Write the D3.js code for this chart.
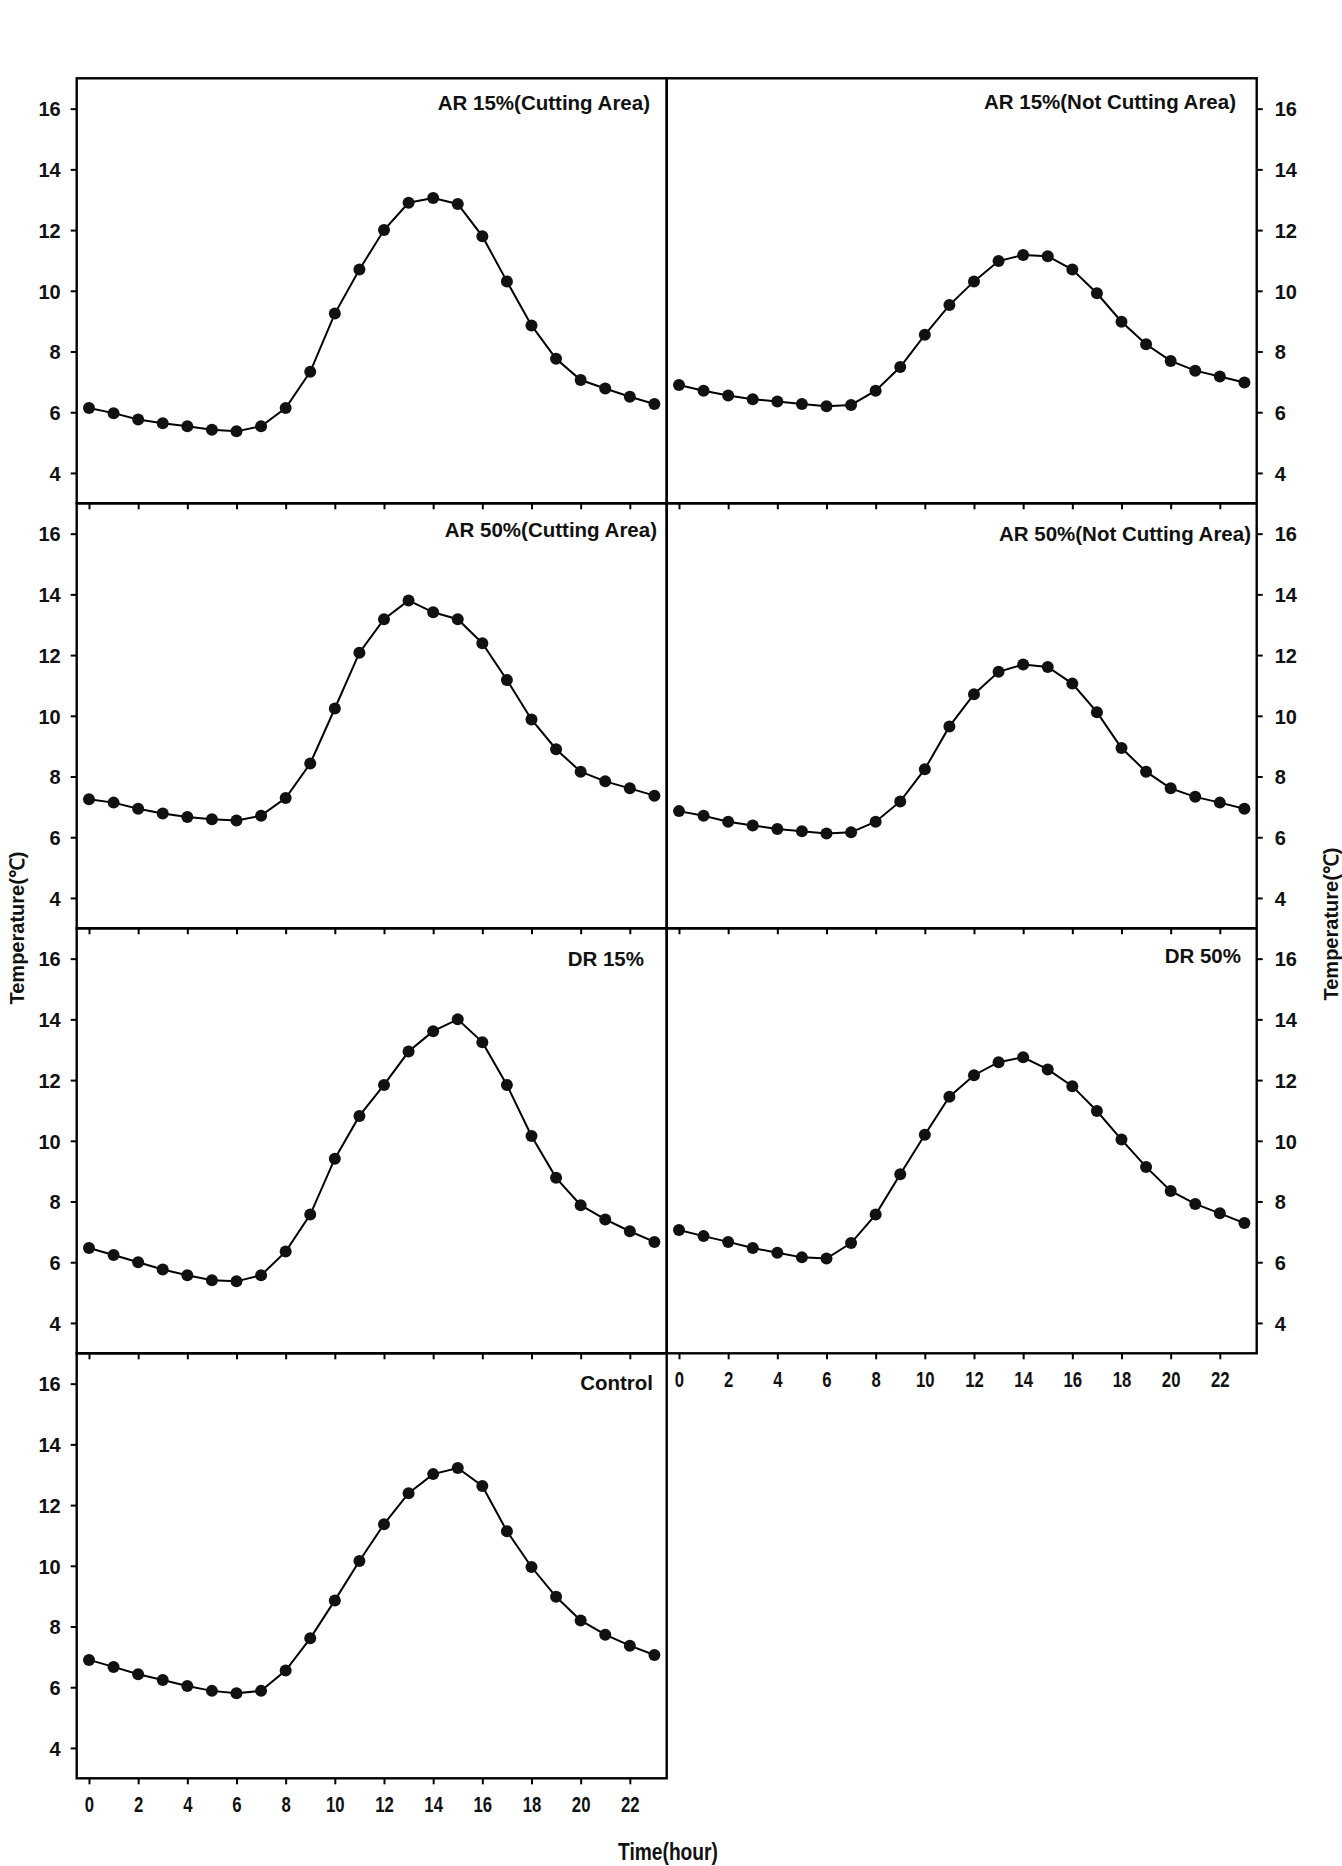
<!DOCTYPE html>
<html>
<head>
<meta charset="utf-8">
<script src="https://cdn.jsdelivr.net/npm/d3@7"></script>
<style>
  html, body { margin: 0; padding: 0; background: #fff; }
  svg { display: block; }
  .lbl { font-family: "Liberation Sans", Arial, sans-serif; font-weight: bold; fill: #111; }
  .narrow { font-family: "Liberation Sans", Arial, sans-serif; font-weight: bold; fill: #111; }
</style>
</head>
<body>
<svg id="chart" width="1342" height="1866"></svg>
<script>
// ---- data ----
const hours = d3.range(0, 24);
const ar15Cut = [6.14, 5.97, 5.76, 5.64, 5.54, 5.42, 5.37, 5.54, 6.14, 7.33, 9.25, 10.7, 12.0, 12.9, 13.06, 12.86, 11.8, 10.31, 8.86, 7.76, 7.06, 6.78, 6.51, 6.27];
const ar15Not = [6.90, 6.71, 6.55, 6.43, 6.35, 6.27, 6.20, 6.24, 6.71, 7.49, 8.55, 9.53, 10.31, 10.98, 11.18, 11.14, 10.7, 9.92, 8.98, 8.24, 7.69, 7.37, 7.18, 6.98];
const ar50Cut = [7.25, 7.14, 6.94, 6.78, 6.67, 6.59, 6.55, 6.71, 7.29, 8.43, 10.24, 12.08, 13.18, 13.8, 13.41, 13.18, 12.39, 11.18, 9.88, 8.90, 8.16, 7.84, 7.61, 7.37];
const ar50Not = [6.86, 6.71, 6.51, 6.39, 6.27, 6.20, 6.12, 6.16, 6.51, 7.18, 8.24, 9.65, 10.71, 11.45, 11.69, 11.61, 11.06, 10.12, 8.94, 8.16, 7.61, 7.33, 7.14, 6.94];
const dr15 = [6.47, 6.24, 6.0, 5.76, 5.57, 5.41, 5.37, 5.57, 6.35, 7.57, 9.41, 10.82, 11.84, 12.94, 13.61, 14.0, 13.25, 11.84, 10.16, 8.78, 7.88, 7.41, 7.02, 6.67];
const dr50 = [7.06, 6.86, 6.67, 6.47, 6.31, 6.16, 6.12, 6.63, 7.57, 8.90, 10.2, 11.45, 12.16, 12.59, 12.75, 12.35, 11.8, 10.98, 10.04, 9.14, 8.35, 7.92, 7.61, 7.29];
const control = [6.90, 6.67, 6.43, 6.24, 6.04, 5.88, 5.80, 5.88, 6.55, 7.61, 8.86, 10.16, 11.37, 12.39, 13.02, 13.22, 12.63, 11.14, 9.96, 8.98, 8.20, 7.73, 7.37, 7.06];
const panelTitles = ["AR 15%(Cutting Area)", "AR 15%(Not Cutting Area)", "AR 50%(Cutting Area)", "AR 50%(Not Cutting Area)", "DR 15%", "DR 50%", "Control"];
const yTicks = [4, 6, 8, 10, 12, 14, 16];
const xTicks = [0, 2, 4, 6, 8, 10, 12, 14, 16, 18, 20, 22];
const yTitle = "Temperature(℃)";
const xTitle = "Time(hour)";

// ---- layout ----
const colX = [76.7, 666.7];
const panelW = 590;
const rowY = [78.3, 503.3, 928.3, 1353.3];
const panelH = 425;

const panels = [
  { values: ar15Cut, title: panelTitles[0], col: 0, row: 0, tx: 650, ty: 110 },
  { values: ar15Not, title: panelTitles[1], col: 1, row: 0, tx: 1236, ty: 109 },
  { values: ar50Cut, title: panelTitles[2], col: 0, row: 1, tx: 657, ty: 537 },
  { values: ar50Not, title: panelTitles[3], col: 1, row: 1, tx: 1251, ty: 541 },
  { values: dr15, title: panelTitles[4], col: 0, row: 2, tx: 644, ty: 966 },
  { values: dr50, title: panelTitles[5], col: 1, row: 2, tx: 1241, ty: 963 },
  { values: control, title: panelTitles[6], col: 0, row: 3, tx: 653, ty: 1390 }
];

const svg = d3.select("#chart");

panels.forEach(p => {
  const x0 = colX[p.col], y0 = rowY[p.row];
  const x = d3.scaleLinear().domain([-0.5, 23.5]).range([x0, x0 + panelW]);
  const y = d3.scaleLinear().domain([3, 17]).range([y0 + panelH, y0]);
  const g = svg.append("g");

  // y axis
  if (p.col === 0) {
    const ax = g.append("g").attr("transform", `translate(${x0},0)`)
      .call(d3.axisLeft(y).tickValues(yTicks).tickSize(6).tickPadding(10));
    ax.select(".domain").remove();
    ax.selectAll("line").attr("stroke", "#000").attr("stroke-width", 2);
    ax.selectAll("text").attr("class", "lbl").style("font-size", "20px").attr("dy", "0.36em");
  } else {
    const ax = g.append("g").attr("transform", `translate(${x0 + panelW},0)`)
      .call(d3.axisRight(y).tickValues(yTicks).tickSize(6).tickPadding(12));
    ax.select(".domain").remove();
    ax.selectAll("line").attr("stroke", "#000").attr("stroke-width", 2);
    ax.selectAll("text").attr("class", "lbl").style("font-size", "20px").attr("dy", "0.36em");
  }

  // x axis ticks (bottom of each panel)
  const bx = g.append("g").attr("transform", `translate(0,${y0 + panelH})`)
    .call(d3.axisBottom(x).tickValues(xTicks).tickSize(6).tickPadding(12));
  bx.select(".domain").remove();
  bx.selectAll("line").attr("stroke", "#000").attr("stroke-width", 2);
  const isBottom = (p.col === 0 && p.row === 3) || (p.col === 1 && p.row === 2);
  if (isBottom) {
    bx.selectAll("text").attr("class", "narrow").style("font-size", "22px")
      .attr("transform", "scale(0.76,1)");
  } else {
    bx.selectAll("text").remove();
  }

  // border
  g.append("rect").attr("x", x0).attr("y", y0).attr("width", panelW).attr("height", panelH)
    .attr("fill", "none").attr("stroke", "#000").attr("stroke-width", 2.4);

  // line
  const line = d3.line().x((d, i) => x(hours[i])).y(d => y(d));
  g.append("path").datum(p.values).attr("d", line)
    .attr("fill", "none").attr("stroke", "#000").attr("stroke-width", 2);
  g.selectAll("circle.pt").data(p.values).enter().append("circle")
    .attr("class", "pt")
    .attr("cx", (d, i) => x(hours[i])).attr("cy", d => y(d)).attr("r", 6)
    .attr("fill", "#111");

  // title
  g.append("text").attr("class", "lbl").attr("x", p.tx).attr("y", p.ty)
    .attr("text-anchor", "end").style("font-size", "20.5px").text(p.title);
});

// axis titles
svg.append("text").attr("class", "lbl").style("font-size", "20px")
  .attr("text-anchor", "middle")
  .attr("transform", "translate(24,928) rotate(-90)").text(yTitle);
svg.append("text").attr("class", "lbl").style("font-size", "20px")
  .attr("text-anchor", "middle")
  .attr("transform", "translate(1338,924) rotate(-90)").text(yTitle);
svg.append("text").attr("class", "narrow").style("font-size", "24px")
  .attr("text-anchor", "middle")
  .attr("transform", "translate(668,1860) scale(0.8,1)").text(xTitle);
</script>
</body>
</html>
